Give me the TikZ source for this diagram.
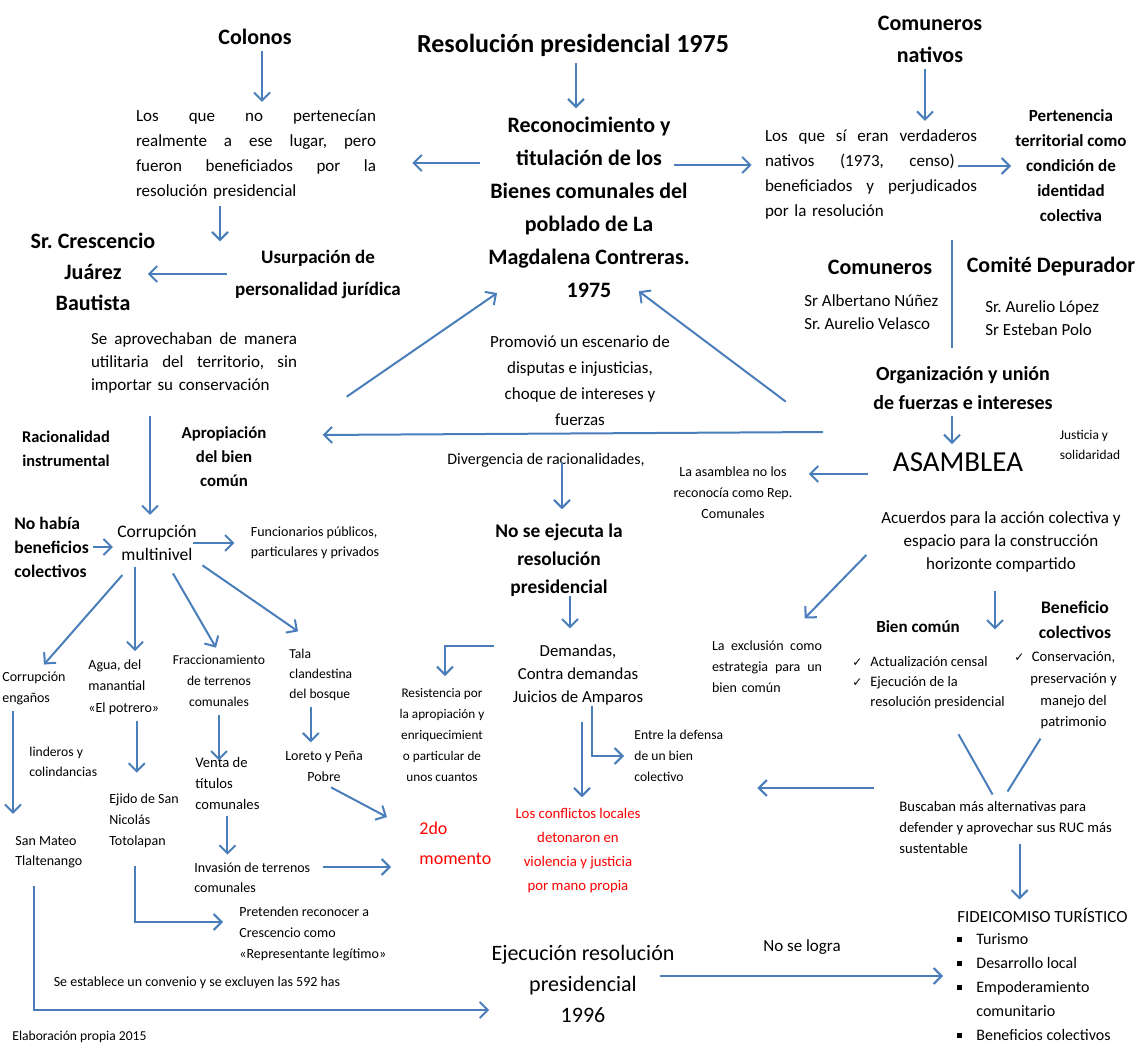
\documentclass[tikz,border=0pt]{standalone}
\usepackage{fontspec}
\setmainfont{Carlito}
\newfontfamily\checkfont{DejaVu Sans}
\usepackage{tikz}
\usetikzlibrary{arrows.meta}

\definecolor{flowblue}{RGB}{74,126,187}
\definecolor{alertred}{RGB}{255,0,0}
\newcommand{\setfs}[2]{\fontsize{#1}{#2}\selectfont}
\newcommand{\chkmark}{{\checkfont\fontsize{6}{6}\selectfont ✓}}
\newcommand{\sqbullet}{\rule[1.5pt]{2.5pt}{2.5pt}}

\begin{document}
\begin{tikzpicture}[x=0.5pt,y=-0.5pt,>={Straight Barb[length=4pt,width=8pt]},
	every node/.style={inner sep=1pt},
	big node/.style={font=\bfseries\setfs{11}{15.5},align=center},
	text node/.style={font=\setfs{8.5}{12},align=center},
	small node/.style={font=\setfs{7}{10.5},align=left},
	bold node/.style={font=\bfseries\setfs{8.5}{12.5},align=center},
	red node/.style={text=alertred},
	flow/.style={->,draw=flowblue,line width=1pt,shorten <=2pt,shorten >=3pt},
	link/.style={draw=flowblue,line width=1pt}]
	
	\useasboundingbox (0,0) rectangle (1141,1047);
	
	% upper part
	\node[big node] (colonos) at (255,37) {Colonos};
	\node[big node,font=\bfseries\setfs{13}{16}] (res75) at (573,45) {Resolución presidencial 1975};
	\node[big node,font=\bfseries\setfs{11}{16}] (comnat) at (930,39) {Comuneros\\ nativos};
	\node[text node,font=\setfs{8.5}{12.5},text width=120pt,align=left] (noperten) at (256,155)
	{Los\hfill que\hfill no\hfill pertenecían\\ realmente\hfill a\hfill ese\hfill lugar,\hfill pero\\ fueron\hfill beneficiados\hfill por\hfill la\\ resolución presidencial};
	\node[big node,font=\bfseries\setfs{11}{16.5}] (recon) at (589,207)
	{Reconocimiento y\\ titulación de los\\ Bienes comunales del\\ poblado de La\\ Magdalena Contreras.\\ 1975};
	\node[text node,font=\setfs{8.5}{12.5},text width=106pt,align=left] (sieran) at (871,174)
	{Los\hfill que\hfill sí\hfill eran\hfill verdaderos\\ nativos\hspace{1.5em}(1973,\hspace{1.5em}censo)\\ beneficiados\hfill y\hfill perjudicados\\ por la resolución};
	\node[bold node] (perten) at (1071,166) {Pertenencia\\ territorial como\\ condición de\\ identidad\\ colectiva};
	
	\node[big node] (cresc) at (93,272) {Sr.\ Crescencio\\ Juárez\\ Bautista};
	\node[big node,font=\bfseries\setfs{9.5}{16}] (usurp) at (318,274) {Usurpación de\\ personalidad jurídica};
	\node[big node] (comun) at (880,267) {Comuneros};
	\node[big node] (comite) at (1051,267) {Comité Depurador};
	\node[text node,font=\setfs{8.5}{11.5},align=left,anchor=west] (comunsr) at (802,312) {Sr Albertano Núñez\\ Sr.\ Aurelio Velasco};
	\node[text node,font=\setfs{8.5}{11.5},align=left,anchor=west] (comitesr) at (983,318) {Sr.\ Aurelio López\\ Sr Esteban Polo};
	\coordinate (divtop) at (952,240);
	\coordinate (divbot) at (952,348);
	
	% middle part
	\node[text node,font=\setfs{8.5}{11.5},text width=103pt,align=left] (aprov) at (194,363)
	{Se\hfill aprovechaban\hfill de\hfill manera\\ utilitaria\hfill del\hfill territorio,\hfill sin\\ importar su conservación};
	\node[text node,font=\setfs{8.5}{13}] (promov) at (580,381) {Promovió un escenario de\\ disputas e injusticias,\\ choque de intereses y\\ fuerzas};
	\node[bold node,font=\bfseries\setfs{10}{14.5}] (organ) at (963,388) {Organización y unión\\ de fuerzas e intereses};
	\node[bold node,font=\bfseries\setfs{8.2}{12}] (racion) at (66,449) {Racionalidad\\ instrumental};
	\node[bold node,font=\bfseries\setfs{8.4}{12}] (apropi) at (224,457) {Apropiación\\ del bien\\ común};
	\node[text node,font=\setfs{8}{10}] (diverg) at (546,460) {Divergencia de racionalidades,};
	\node[font=\setfs{14.5}{16}] (asamb) at (958,462) {ASAMBLEA};
	\node[small node,font=\setfs{6.7}{10}] (justic) at (1090,445) {Justicia y\\ solidaridad};
	\node[small node,align=center] (rep) at (733,493) {La asamblea no los\\ reconocía como Rep.\\ Comunales};
	
	\node[bold node,font=\bfseries\setfs{8.8}{12},align=left,anchor=west] (nohabia) at (12,547) {No había\\ beneficios\\ colectivos};
	\node[text node,font=\setfs{8.8}{11.5}] (corrup) at (157,543) {Corrupción\\ multinivel};
	\node[small node,font=\setfs{7}{10}] (funcion) at (315,543) {Funcionarios públicos,\\ particulares y privados};
	\node[text node,font=\setfs{8.5}{11.5}] (acuerd) at (1001,542) {Acuerdos para la acción colectiva y\\ espacio para la construcción\\ horizonte compartido};
	\node[big node,font=\bfseries\setfs{9.7}{14}] (noejec) at (559,560) {No se ejecuta la\\ resolución\\ presidencial};
	\node[bold node,font=\bfseries\setfs{8.8}{12.5}] (benef) at (1075,620) {Beneficio\\ colectivos};
	\node[bold node] (biencom) at (918,627) {Bien común};
	\node[small node,text width=55pt] (exclus) at (767,667) {La\hfill exclusión\hfill como\\ estrategia\hfill para\hfill un\\ bien común};
	\node[small node,font=\setfs{7.2}{10},anchor=west] (censal) at (850,683)
	{\begin{tabular}{@{}l@{\hspace{4pt}}l@{}}\chkmark & Actualización censal\\ \chkmark & Ejecución de la\\ & resolución presidencial\end{tabular}};
	\node[small node,font=\setfs{7.3}{10.8},anchor=west] (conserv) at (1012,690)
	{\begin{tabular}{@{}l@{\hspace{3pt}}c@{}}\chkmark & Conservación,\\ & preservación y\\ & manejo del\\ & patrimonio\end{tabular}};
	
	% lower part
	\node[small node,anchor=west] (corrupeng) at (0,688) {Corrupción\\ engaños};
	\node[small node,font=\setfs{7}{10.75},anchor=west] (agua) at (86,687) {Agua, del\\ manantial\\ «El potrero»};
	\node[small node,font=\setfs{6.8}{10.5},align=center] (fracc) at (219,681) {Fraccionamiento\\ de terrenos\\ comunales};
	\node[small node,font=\setfs{6.8}{10},anchor=west] (tala) at (287,675) {Tala\\ clandestina\\ del bosque};
	\node[text node,font=\setfs{8.4}{11.5}] (demand) at (578,675) {Demandas,\\ Contra demandas\\ Juicios de Amparos};
	\node[small node,font=\setfs{6.6}{10.5},align=center] (resist) at (442,735) {Resistencia por\\ la apropiación y\\ enriquecimient\\ o particular de\\ unos cuantos};
	\node[small node,font=\setfs{6.8}{10.5},anchor=west] (defensa) at (632,756) {Entre la defensa\\ de un bien\\ colectivo};
	\node[small node,font=\setfs{6.8}{10},anchor=west] (linder) at (27,762) {linderos y\\ colindancias};
	\node[small node,align=center] (loreto) at (324,766) {Loreto y Peña\\ Pobre};
	\node[small node,font=\setfs{7.3}{10.5},anchor=west] (venta) at (193,783) {Venta de\\ títulos\\ comunales};
	\node[small node,font=\setfs{7.3}{10.5},anchor=west] (buscab) at (897,827) {Buscaban más alternativas para\\ defender y aprovechar sus RUC más\\ sustentable};
	\node[small node,anchor=west] (ejido) at (107,821) {Ejido de San\\ Nicolás\\ Totolapan};
	\node[red node,font=\setfs{9}{15},align=left,anchor=west] (momento) at (417,843) {2do\\ momento};
	\node[red node,font=\setfs{7.4}{12},align=center] (conflic) at (578,851) {Los conflictos locales\\ detonaron en\\ violencia y justicia\\ por mano propia};
	\node[small node,font=\setfs{7}{10},anchor=west] (sanmat) at (13,852) {San Mateo\\ Tlaltenango};
	\node[small node,font=\setfs{7}{10},anchor=west] (invas) at (192,878) {Invasión de terrenos\\ comunales};
	\node[font=\setfs{8.5}{10},anchor=west] (fideic) at (955,915) {FIDEICOMISO TURÍSTICO};
	\node[font=\setfs{8}{12},anchor=west] (fidlist) at (955,988)
	{\begin{tabular}{@{}l@{\hspace{7pt}}l@{}}\sqbullet & Turismo\\ \sqbullet & Desarrollo local\\ \sqbullet & Empoderamiento\\ & comunitario\\ \sqbullet & Beneficios colectivos\end{tabular}};
	\node[small node,anchor=west] (preten) at (237,934) {Pretenden reconocer a\\ Crescencio como\\ «Representante legítimo»};
	\node[font=\setfs{8.5}{10}] (nologra) at (802,947) {No se logra};
	\node[font=\setfs{11}{15.5},align=center] (ejec96) at (583,984) {Ejecución resolución\\ presidencial\\ 1996};
	\node[font=\setfs{7}{10}] (conven) at (197,983) {Se establece un convenio y se excluyen las 592 has};
	\node[font=\setfs{6.8}{10},anchor=west] (elab) at (10,1037) {Elaboración propia 2015};
	
	% connectors
	\draw[flow,transform canvas={xshift=3.5pt}] (colonos.south) -- (colonos.south |- noperten.north);
	\draw[flow,transform canvas={xshift=1.5pt}] (res75.south) -- (res75.south |- recon.north);
	\draw[flow,transform canvas={xshift=-2.5pt}] (comnat.south) -- (comnat.south |- sieran.north);
	\draw[flow,shorten <=3pt,shorten >=17pt,transform canvas={yshift=-4pt}] (recon.west |- noperten.east) -- (noperten.east);
	\draw[flow,shorten <=-9pt,shorten >=5.5pt,transform canvas={yshift=4.5pt}] (recon.east |- sieran.west) -- (sieran.west);
	\draw[flow,shorten <=-10.5pt,shorten >=1pt] (sieran.east |- perten.west) -- (perten.west);
	\draw[link] (divtop) -- (divbot);
	\draw[flow,transform canvas={xshift=-18pt}] (noperten.south) -- (noperten.south |- usurp.north);
	\draw[flow,shorten <=3pt,shorten >=-5pt] (usurp.west) -- (usurp.west -| cresc.east);
	\draw[flow,shorten <=10pt,shorten >=4pt,transform canvas={xshift=-22pt}] (aprov.south) -- (aprov.south |- corrup.north);
	\draw[flow] ([xshift=22pt,yshift=-18pt]aprov.east) -- ([xshift=8pt,yshift=5pt]recon.south west);
	\draw[flow] ([xshift=-41pt,yshift=-8pt]organ.west) -- ([xshift=-29pt,yshift=6pt]recon.south east);
	\draw[flow] ([xshift=-22pt,yshift=-10pt]organ.south west) -- ([xshift=24pt,yshift=11pt]apropi.east);
	\draw[flow,transform canvas={xshift=-5.5pt}] (organ.south) -- (organ.south |- asamb.north);
	\draw[flow,shorten <=11.5pt,shorten >=7pt,transform canvas={yshift=-6pt}] (asamb.west) -- (asamb.west -| rep.east);
	\draw[flow,shorten <=-3.5pt,shorten >=6pt,transform canvas={xshift=8pt}] (diverg.south) -- (diverg.south |- noejec.north);
	\draw[flow,shorten <=-1.5pt,shorten >=7pt,transform canvas={xshift=5.5pt}] (noejec.south) -- (noejec.south |- demand.north);
	\draw[flow,shorten <=0pt,shorten >=5pt] ([xshift=-8pt,yshift=14.5pt]demand.west) -| ([xshift=1.5pt]resist.north);
	\draw[flow,shorten <=-1pt,shorten >=4pt] ([xshift=7pt]demand.south) |- (defensa.west);
	\draw[flow,shorten <=7pt,shorten >=4.5pt,transform canvas={xshift=2pt}] (demand.south) -- (demand.south |- conflic.north);
	
	\draw[flow,shorten <=1pt,shorten >=1pt] (nohabia.east) -- (nohabia.east -| corrup.west);
	\draw[flow,shorten <=-3pt,shorten >=7pt] (corrup.east) -- (corrup.east -| funcion.west);
	\draw[flow,shorten <=8pt] ([xshift=9pt]corrup.south west) -- ([xshift=3pt]corrupeng.north);
	\draw[flow,transform canvas={xshift=-11pt}] (corrup.south) -- (corrup.south |- agua.north);
	\draw[flow,shorten <=6pt] ([xshift=5pt]corrup.south) -- (fracc.north);
	\draw[flow] (corrup.south east) -- ([xshift=8pt,yshift=6pt]tala.north west);
	\draw[flow,shorten >=10pt,transform canvas={xshift=-10.5pt}] (corrupeng.south) -- (corrupeng.south |- sanmat.north);
	\draw[flow,shorten >=9.5pt,transform canvas={xshift=6.5pt}] (agua.south) -- (agua.south |- ejido.north);
	\draw[flow,shorten <=3pt,shorten >=-3pt] (fracc.south) -- (fracc.south |- venta.north);
	\draw[flow,transform canvas={xshift=-5pt}] (tala.south) -- (tala.south |- loreto.north);
	\draw[flow,shorten <=4pt,shorten >=17pt] (loreto.south) -- ([yshift=5pt]momento.west);
	\draw[flow] (venta.south) -- (venta.south |- invas.north);
	\draw[flow,shorten <=5pt,shorten >=13pt,transform canvas={yshift=5.5pt}] (invas.east) -- (invas.east -| momento.west);
	\draw[flow,shorten <=8pt,shorten >=7pt] ([xshift=-4.5pt]ejido.south) |- ([yshift=6pt]preten.west);
	\draw[flow,shorten <=8pt,shorten >=0pt] ([xshift=-7.5pt]sanmat.south) |- ([yshift=-13pt]ejec96.west);
	
	\draw[flow,shorten <=9pt] (acuerd.west) -- ([xshift=-12pt,yshift=8pt]exclus.north east);
	\draw[flow,shorten <=8pt,transform canvas={xshift=-3pt}] (acuerd.south) -- (acuerd.south |- biencom.south);
	\draw[link] ([xshift=15pt,yshift=-9.5pt]censal.south) -- ([xshift=-6.5pt,yshift=2pt]buscab.north);
	\draw[link] ([xshift=-12.5pt,yshift=-1.5pt]conserv.south) -- ([xshift=1pt,yshift=3.5pt]buscab.north);
	\draw[flow,shorten <=11.5pt,shorten >=16pt,transform canvas={yshift=19.5pt}] (buscab.west) -- (buscab.west -| defensa.east);
	\draw[flow,shorten <=-6pt,transform canvas={xshift=7pt}] (buscab.south) -- (buscab.south |- fideic.north);
	\draw[flow,shorten <=-8.5pt,shorten >=6pt,transform canvas={yshift=4pt}] (ejec96.east) -- (ejec96.east -| fidlist.west);
\end{tikzpicture}
\end{document}
